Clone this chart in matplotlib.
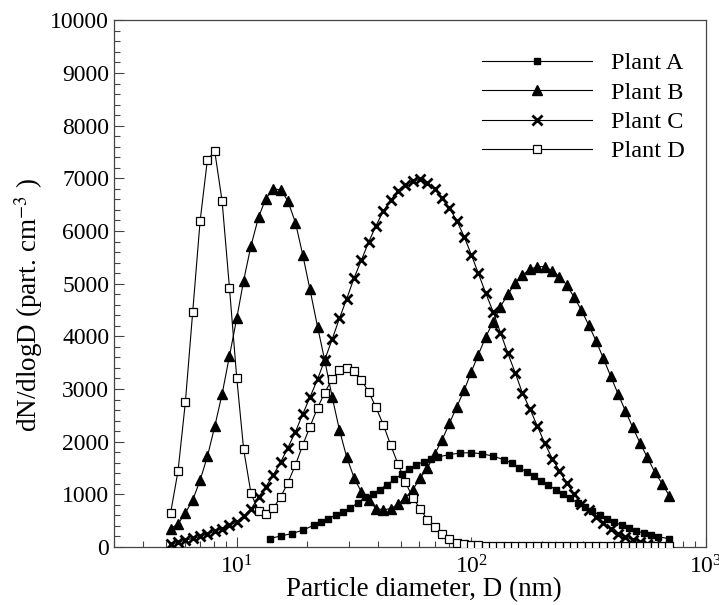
import matplotlib
matplotlib.use('Agg')
import matplotlib.pyplot as plt
from matplotlib.ticker import LogLocator, MultipleLocator, NullFormatter

plt.rcParams['font.family'] = ['Liberation Serif', 'DejaVu Serif']
plt.rcParams['mathtext.fontset'] = 'stix'

# particle diameters (nm) shared by plants B, C and D
diameters = [5.23, 5.62, 6.04, 6.49, 6.98, 7.50, 8.06, 8.66, 9.31, 10.0,
             10.7, 11.5, 12.4, 13.3, 14.3, 15.4, 16.5, 17.8, 19.1, 20.5,
             22.1, 23.7, 25.5, 27.4, 29.4, 31.6, 34.0, 36.5, 39.2, 42.2,
             45.3, 48.7, 52.3, 56.2, 60.4, 64.9, 69.8, 75.0, 80.6, 86.6,
             93.1, 100, 107, 115, 124, 133, 143, 154, 165, 178,
             191, 205, 221, 237, 255, 274, 294, 316, 340, 365,
             392, 422, 453, 487, 523, 562, 604, 649, 698]

# plant A was sampled on its own size channels
diam_a = [13.8, 15.4, 17.2, 19.1, 21.3, 22.9, 24.6, 26.4, 28.4, 30.5,
          32.8, 35.2, 37.9, 40.7, 43.7, 47.0, 50.5, 54.2, 58.3, 62.6,
          67.3, 72.3, 80.6, 89.8, 100, 111, 124, 138, 149, 160,
          172, 184, 198, 213, 229, 246, 264, 284, 305, 328,
          352, 379, 407, 437, 470, 505, 542, 583, 626, 698]

plant_a = [160, 209, 255, 318, 413, 475, 540, 603, 665, 741,
           837, 940, 1010, 1090, 1185, 1285, 1380, 1480, 1560, 1620,
           1670, 1710, 1755, 1785, 1790, 1770, 1724, 1655, 1590, 1506,
           1426, 1340, 1258, 1175, 1088, 1010, 923, 834, 755, 682,
           605, 536, 472, 410, 355, 308, 262, 225, 195, 156]

plant_b = [350, 437, 646, 888, 1268, 1720, 2290, 2900, 3625, 4342,
           5057, 5720, 6268, 6615, 6800, 6781, 6575, 6155, 5552, 4896,
           4183, 3549, 2852, 2219, 1711, 1319, 1040, 895, 730, 705,
           730, 810, 939, 1085, 1306, 1500, 1765, 2035, 2346, 2662,
           2972, 3330, 3650, 3985, 4278, 4563, 4798, 5008, 5165, 5274,
           5323, 5323, 5247, 5133, 4975, 4741, 4500, 4215, 3911, 3582,
           3245, 2903, 2586, 2270, 1977, 1700, 1426, 1205, 970]

plant_c = [50, 90, 130, 165, 200, 250, 300, 350, 410, 480,
           580, 720, 951, 1141, 1363, 1616, 1880, 2190, 2520, 2840,
           3185, 3549, 3943, 4342, 4709, 5103, 5450, 5790, 6100, 6382,
           6591, 6760, 6880, 6950, 6980, 6910, 6795, 6624, 6433, 6198,
           5894, 5546, 5198, 4825, 4456, 4070, 3677, 3297, 2922, 2612,
           2295, 1977, 1680, 1450, 1210, 1008, 825, 698, 570, 456,
           350, 255, 190, 141, 95, 65, 40]

plant_d = [654, 1439, 2745, 4456, 6186, 7357, 7510, 6572, 4924, 3213,
           1857, 1020, 680, 635, 736, 951, 1217, 1559, 1933, 2281,
           2643, 2928, 3188, 3359, 3392, 3340, 3169, 2947, 2650, 2314,
           1934, 1572, 1236, 939, 730, 521, 380, 255, 160, 84,
           55, 40, 32, 26, 22, 18, 15, 12, 10, 10,
           10, 10, 10, 10, 10, 10, 10, 10, 10, 10,
           10, 10, 10, 10, 10, 10, 10, 10, 10]

fig = plt.figure(figsize=(7.19, 6.05), dpi=100)
ax = fig.add_axes([0.1586, 0.0959, 0.8234, 0.8705])

line_kw = dict(color='black', linewidth=0.8)
ax.plot(diam_a, plant_a, marker='s', markersize=4.5, markerfacecolor='black',
        markeredgecolor='black', label='Plant A', zorder=3, **line_kw)
ax.plot(diameters, plant_b, marker='^', markersize=6.5, markerfacecolor='black',
        markeredgecolor='black', label='Plant B', zorder=4, **line_kw)
ax.plot(diameters[:len(plant_c)], plant_c, marker='x', markersize=6.5,
        markeredgewidth=2.0, markeredgecolor='black', label='Plant C', zorder=5, **line_kw)
ax.plot(diameters, plant_d, marker='s', markersize=6, markerfacecolor='white',
        markeredgecolor='black', markeredgewidth=0.9, label='Plant D', zorder=6, **line_kw)

ax.set_xscale('log')
ax.set_xlim(3, 1000)
ax.set_ylim(0, 10000)

ax.xaxis.set_major_locator(LogLocator(base=10, numticks=10))
ax.xaxis.set_minor_locator(LogLocator(base=10, subs=range(2, 10), numticks=10))
ax.xaxis.set_minor_formatter(NullFormatter())
ax.yaxis.set_major_locator(MultipleLocator(1000))
ax.yaxis.set_minor_locator(MultipleLocator(200))

ax.tick_params(which='both', direction='in', top=False, right=False,
               labelsize=17, color='#444444', labelcolor='black', width=0.8)
ax.tick_params(which='major', length=7)
ax.tick_params(which='minor', length=4)
ax.tick_params(axis='x', which='major', pad=6)
for sp in ax.spines.values():
    sp.set_linewidth(0.9)
    sp.set_color('#444444')

ax.set_xlabel('Particle diameter, D (nm)', fontsize=19.5)
ax.set_ylabel('dN/dlogD (part. cm$^{-3}$ )', fontsize=19.5)
ax.xaxis.set_label_coords(0.524, -0.058)
ax.yaxis.set_label_coords(-0.117, 0.459)

ax.legend(loc='upper left', bbox_to_anchor=(0.622, 0.939), frameon=False,
          fontsize=17.5, handlelength=4.5, handletextpad=0.8, labelspacing=0.3,
          borderpad=0, borderaxespad=0)

fig.savefig('out.png', dpi=100, facecolor='white')
